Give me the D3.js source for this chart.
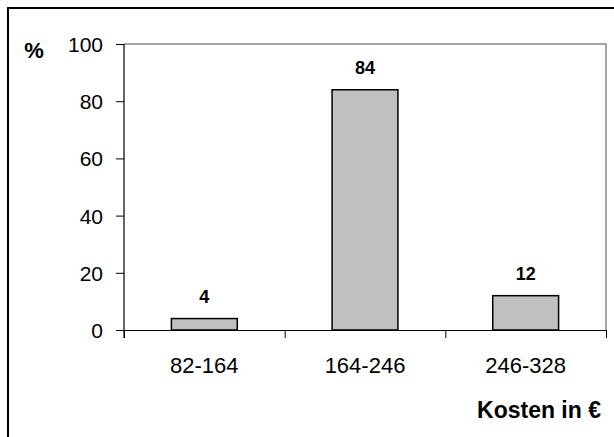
<!DOCTYPE html>
<html>
<head>
<meta charset="utf-8">
<script src="https://cdn.jsdelivr.net/npm/d3@7"></script>
<style>
  html, body { margin: 0; padding: 0; background: #fff; }
  svg { display: block; }
  text { font-family: "Liberation Sans", Arial, sans-serif; fill: #000; }
</style>
</head>
<body>
<svg id="chart" width="614" height="437"></svg>
<script>
// Cost bands and share of cases (%)
const categories = ["82-164", "164-246", "246-328"];
const shares = [4, 84, 12];
const yTickValues = [0, 20, 40, 60, 80, 100];
const yUnit = "%";
const xTitle = "Kosten in €";

const svg = d3.select("#chart");
const plot = { left: 124, right: 606, top: 44, bottom: 330 };

// Outer frame (only top/left edges fall inside the canvas)
svg.append("rect")
  .attr("x", 8).attr("y", 8)
  .attr("width", 700).attr("height", 600)
  .attr("fill", "none").attr("stroke", "#000").attr("stroke-width", 2);

const y = d3.scaleLinear().domain([0, 100]).range([plot.bottom, plot.top]);
const xCat = d3.scaleBand().domain(categories).range([plot.left, plot.right]).padding(0);
const xBar = d3.scaleBand().domain(categories).range([plot.left, plot.right])
  .paddingInner(0.59).paddingOuter(0.295);
const xEdge = d3.scaleLinear().domain([0, categories.length]).range([plot.left, plot.right]);

// Plot-area border (top and right)
svg.append("path")
  .attr("d", `M${plot.left},${plot.top}H${plot.right}V${plot.bottom}`)
  .attr("fill", "none").attr("stroke", "#8a8a8a").attr("stroke-width", 1.5);

// Bars
svg.append("g").selectAll("rect")
  .data(shares)
  .join("rect")
  .attr("x", (d, i) => xBar(categories[i]))
  .attr("y", d => y(d))
  .attr("width", xBar.bandwidth())
  .attr("height", d => y(0) - y(d))
  .attr("fill", "#c0c0c0")
  .attr("stroke", "#000")
  .attr("stroke-width", 1.5);

// Value labels
svg.append("g").selectAll("text")
  .data(shares)
  .join("text")
  .attr("x", (d, i) => xBar(categories[i]) + xBar.bandwidth() / 2)
  .attr("y", d => y(d) - 16)
  .attr("text-anchor", "middle")
  .attr("font-size", 18)
  .attr("font-weight", "bold")
  .text(d => d);

// Y axis
const yAxis = svg.append("g")
  .attr("transform", `translate(${plot.left},0)`)
  .call(d3.axisLeft(y).tickValues(yTickValues).tickSize(8).tickSizeOuter(0).tickPadding(13));
yAxis.select(".domain").remove();
yAxis.selectAll(".tick line").attr("stroke", "#000");
yAxis.selectAll(".tick text")
  .attr("font-size", 21)
  .attr("font-family", "'Liberation Sans', Arial, sans-serif")
  .attr("fill", "#000")
  .attr("dy", "0.36em");
svg.append("line")
  .attr("x1", plot.left).attr("x2", plot.left)
  .attr("y1", plot.top).attr("y2", plot.bottom + 8)
  .attr("stroke", "#000").attr("stroke-width", 1.2);

// X axis with ticks at category boundaries
const xAxis = svg.append("g")
  .attr("transform", `translate(0,${plot.bottom})`)
  .call(d3.axisBottom(xEdge).tickValues(d3.range(categories.length + 1))
    .tickFormat("").tickSize(8).tickSizeOuter(0));
xAxis.select(".domain").attr("stroke", "#000").attr("stroke-width", 1.2);
xAxis.selectAll(".tick line").attr("stroke", "#000");

// Category labels
svg.append("g").selectAll("text")
  .data(categories)
  .join("text")
  .attr("x", d => xCat(d) + xCat.bandwidth() / 2)
  .attr("y", 373)
  .attr("text-anchor", "middle")
  .attr("font-size", 22)
  .text(d => d);

// Axis titles
svg.append("text")
  .attr("x", 34).attr("y", 58)
  .attr("text-anchor", "middle")
  .attr("font-size", 22)
  .attr("font-weight", "bold")
  .text(yUnit);

svg.append("text")
  .attr("x", 601).attr("y", 418)
  .attr("text-anchor", "end")
  .attr("font-size", 23)
  .attr("font-weight", "bold")
  .text(xTitle);
</script>
</body>
</html>
